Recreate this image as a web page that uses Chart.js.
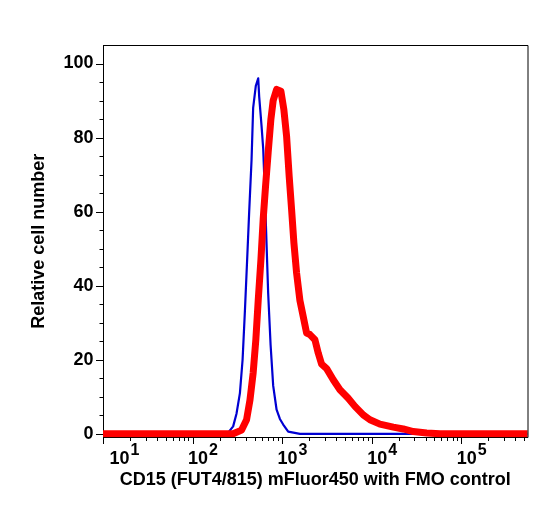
<!DOCTYPE html>
<html><head><meta charset="utf-8">
<script src="https://cdn.jsdelivr.net/npm/chart.js@4"></script>
<style>html,body{margin:0;padding:0;background:#fff;}canvas{display:block;}</style>
</head><body>
<canvas id="c" width="548" height="507"></canvas>
<script>
// Fluorescence intensity (x) and relative cell number (y)
const cd15X = [10, 284, 353, 401, 437, 475, 509, 541, 580, 615, 654, 699, 750, 795, 868, 970, 1047, 1122, 1200, 1277, 1355, 1452, 1581, 1721, 1878, 2045, 2326, 2532, 2763, 3143, 3724, 4423, 5477, 6508, 8054, 9572, 12380, 17430, 22540, 29160, 41160, 57940, 550000];
const cd15Y = [0, 0, 1, 3.8, 9, 16.4, 25.4, 36, 47, 58, 67, 76, 85, 90, 93, 92.5, 87.5, 80.4, 69.5, 60.5, 51.5, 43.4, 36, 31.7, 27.2, 26.8, 25.4, 21.8, 18.8, 17.6, 14.6, 11.9, 9.6, 7.4, 5.1, 3.8, 2.6, 1.8, 1.3, 0.6, 0.2, 0, 0];
const fmoX = [10, 200, 250, 284, 310, 338, 362, 384, 407, 429, 456, 475, 509, 541, 555, 590, 615, 642, 671, 699, 744, 795, 868, 945, 1029, 1170, 1581, 550000];
const fmoY = [0, 0, 0.3, 2, 5.5, 11, 20, 33, 47, 60, 74, 88, 94, 96, 91, 83, 77, 65, 51, 38, 24, 13, 6.5, 4, 2.5, 0.6, 0, 0];
const xDecades = [1, 2, 3, 4, 5];
const yTicks = [0, 20, 40, 60, 80, 100];
const yMinorStep = 5;
const xMin = 10, xMax = 550000, yMin = -1, yMax = 105;
const xTitle = 'CD15 (FUT4/815) mFluor450 with FMO control';
const yTitle = 'Relative cell number';

const FONT = "'Liberation Sans', Arial, Helvetica, sans-serif";
const toPts = (xs, ys) => xs.map((v, i) => ({x: v, y: ys[i]}));

const axisDecor = {
  id: 'axisDecor',
  afterDraw(chart) {
    const {ctx, chartArea: a, scales: {x, y}} = chart;
    ctx.save();
    ctx.strokeStyle = '#000';
    ctx.lineWidth = 1;
    // top and right frame
    ctx.beginPath();
    ctx.moveTo(a.left, a.top + 0.5);
    ctx.lineTo(a.right + 0.5, a.top + 0.5);
    ctx.lineTo(a.right + 0.5, a.bottom);
    ctx.stroke();
    // y ticks
    for (let v = yTicks[0]; v <= yTicks[yTicks.length - 1]; v += yMinorStep) {
      const py = Math.round(y.getPixelForValue(v)) + 0.5;
      const len = yTicks.includes(v) ? 7 : 3.5;
      ctx.beginPath();
      ctx.moveTo(a.left - len, py);
      ctx.lineTo(a.left, py);
      ctx.stroke();
    }
    // x ticks
    for (const d of xDecades) {
      for (let m = 1; m <= 9; m++) {
        const v = m * Math.pow(10, d);
        if (v < x.min || v > x.max) continue;
        const px = Math.round(x.getPixelForValue(v)) + 0.5;
        const len = m === 1 ? 6.5 : 3.5;
        ctx.beginPath();
        ctx.moveTo(px, a.bottom);
        ctx.lineTo(px, a.bottom + len);
        ctx.stroke();
      }
    }
    // x tick labels: 10 with superscript exponent
    ctx.fillStyle = '#000';
    ctx.textAlign = 'left';
    ctx.textBaseline = 'alphabetic';
    for (const d of xDecades) {
      const px = x.getPixelForValue(Math.pow(10, d));
      const lx = Math.max(px - 4.5, a.left + 6.5);
      ctx.font = 'bold 18px ' + FONT;
      ctx.fillText('10', lx, a.bottom + 26);
      const w = ctx.measureText('10').width;
      ctx.font = 'bold 16px ' + FONT;
      ctx.fillText(String(d), lx + w + 1, a.bottom + 17.5);
    }
    ctx.restore();
  }
};

new Chart(document.getElementById('c'), {
  type: 'line',
  data: {
    datasets: [
      {label: 'CD15', data: toPts(cd15X, cd15Y), borderColor: '#ff0000', borderWidth: 7,
       pointRadius: 0, tension: 0, borderJoinStyle: 'round', borderCapStyle: 'round', fill: false},
      {label: 'FMO', data: toPts(fmoX, fmoY), borderColor: '#0000d2', borderWidth: 2.2,
       pointRadius: 0, tension: 0, borderJoinStyle: 'round', fill: false}
    ]
  },
  options: {
    responsive: false,
    animation: false,
    devicePixelRatio: 1,
    layout: {padding: {top: 45, right: 20.5, bottom: 0, left: 0}},
    plugins: {legend: {display: false}, tooltip: {enabled: false}},
    scales: {
      x: {
        type: 'logarithmic', min: xMin, max: xMax,
        grid: {display: false, drawTicks: false},
        border: {display: true, color: '#000', width: 1},
        ticks: {display: false},
        title: {display: true, text: xTitle, color: '#000',
                font: {family: FONT, size: 18, weight: 'bold'}, padding: {top: 0, bottom: 16}},
        afterFit(s) { s.height = 69.5; }
      },
      y: {
        type: 'linear', min: yMin, max: yMax,
        grid: {display: false, drawTicks: false},
        border: {display: true, color: '#000', width: 1},
        afterBuildTicks(s) { s.ticks = yTicks.map(v => ({value: v})); },
        ticks: {color: '#000', padding: 9.5, font: {family: FONT, size: 18, weight: 'bold'}},
        title: {display: true, text: yTitle, color: '#000',
                font: {family: FONT, size: 18, weight: 'bold'}, padding: {top: 28, bottom: 0}},
        afterFit(s) { s.width = 103; }
      }
    }
  },
  plugins: [axisDecor]
});
</script>
</body></html>
